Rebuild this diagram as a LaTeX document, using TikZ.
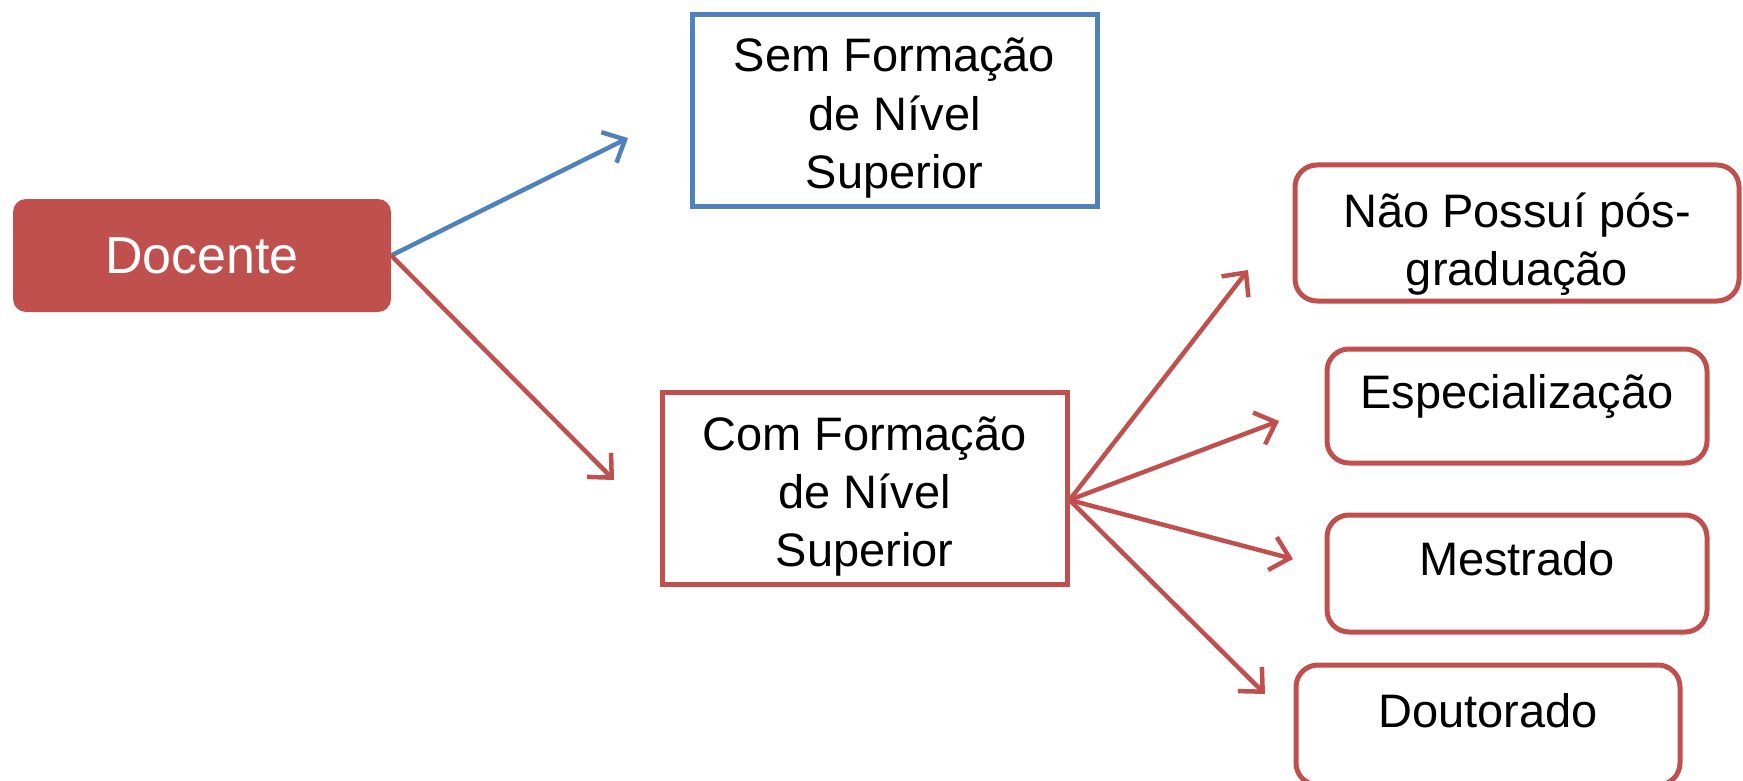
\documentclass[tikz,border=0pt]{standalone}
\usepackage{fontspec}
\setmainfont{Liberation Sans}
\usetikzlibrary{arrows.meta}
\definecolor{docred}{HTML}{C0504D}
\definecolor{docblue}{HTML}{4F81BD}
\tikzstyle{every node}=[font=\fontsize{47}{58}\selectfont]
\tikzstyle{docente}=[rectangle,
                     rounded corners=13pt,
                     fill=docred,
                     text=white,
                     minimum width=378pt,
                     minimum height=113pt,
                     font=\fontsize{52}{62}\selectfont]
\tikzstyle{formacao}=[rectangle,
                      line width=5pt,
                      minimum width=405pt,
                      minimum height=192pt,
                      align=center,
                      text height=165pt,
                      text depth=10pt]
\tikzstyle{titulo}=[rectangle,
                    rounded corners=22pt,
                    draw=docred,
                    line width=5pt,
                    align=center,
                    text height=36pt,
                    text depth=32pt]
\tikzstyle{seta}=[line width=4.5pt,
                  -{Straight Barb[length=18pt,width=34pt]}]

\begin{document}
\begin{tikzpicture}[x=1pt,y=-1pt]
\useasboundingbox (0,0) rectangle (1743,781);
\node (Docente) [docente] at (202,255.5) {Docente};
\node (Sem) [formacao,draw=docblue] at (894.5,110.5) {Sem Formação\\de Nível\\Superior};
\node (Com) [formacao,draw=docred] at (864.5,488.5) {Com Formação\\de Nível\\Superior};
\node (Nao) [titulo,minimum width=444pt,minimum height=136pt,text height=114pt,text depth=10pt] at (1517,233) {Não Possuí pós-\\graduação};
\node (Esp) [titulo,minimum width=380pt,minimum height=114pt] at (1517,406) {Especialização};
\node (Mes) [titulo,minimum width=380pt,minimum height=117pt] at (1517,573.5) {Mestrado};
\node (Dou) [titulo,minimum width=384pt,minimum height=120pt] at (1488,725) {Doutorado};
\coordinate (semTip) at (628,138);
\coordinate (comTip) at (614,480);
\coordinate (naoTip) at (1248,270);
\coordinate (espTip) at (1279,421);
\coordinate (mesTip) at (1293,559);
\coordinate (douTip) at (1265,694);
\draw[seta,docblue] (Docente.east) -- (semTip);
\draw[seta,docred] (Docente.east) -- (comTip);
\draw[seta,docred] ([yshift=-11.5pt]Com.east) -- (naoTip);
\draw[seta,docred] ([yshift=-11.5pt]Com.east) -- (espTip);
\draw[seta,docred] ([yshift=-11.5pt]Com.east) -- (mesTip);
\draw[seta,docred] ([yshift=-11.5pt]Com.east) -- (douTip);
\end{tikzpicture}
\end{document}
